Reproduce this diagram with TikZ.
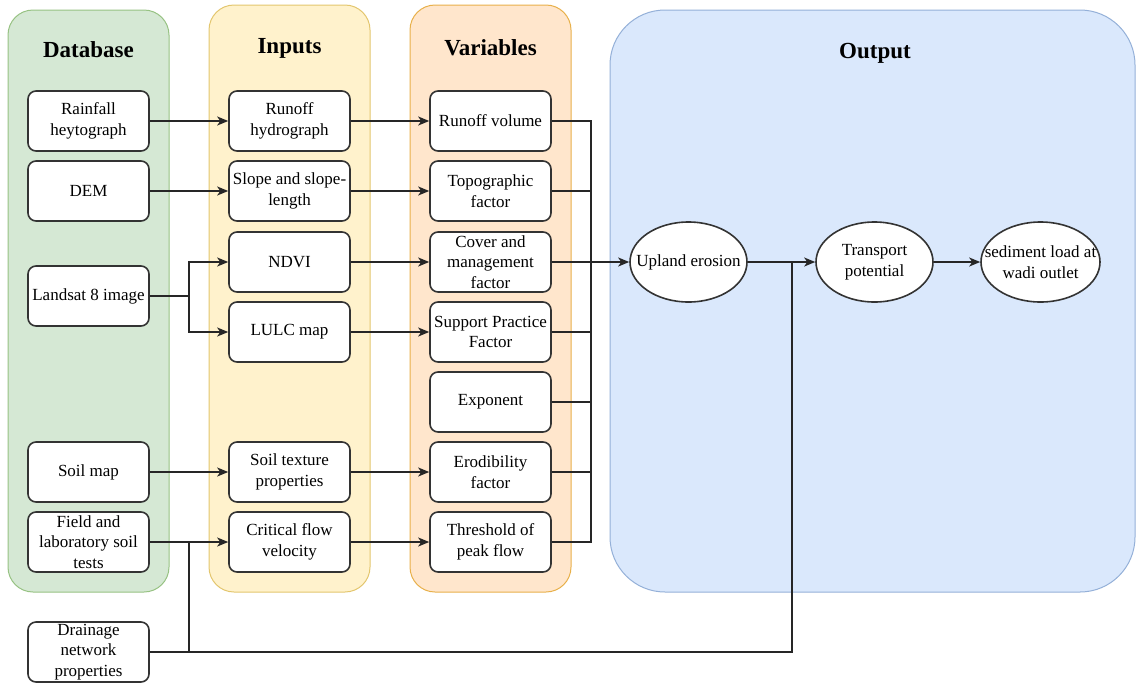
\documentclass[tikz,border=0pt]{standalone}
\usepackage{fontspec}
\setmainfont{Liberation Serif}
\usetikzlibrary{arrows.meta,shapes.geometric}
\definecolor{dbfill}{HTML}{D5E8D4}\definecolor{dbdraw}{HTML}{97C283}
\definecolor{infill}{HTML}{FFF2CC}\definecolor{indraw}{HTML}{E3C66E}
\definecolor{varfill}{HTML}{FFE6CC}\definecolor{vardraw}{HTML}{E8B04A}
\definecolor{outfill}{HTML}{DAE8FC}\definecolor{outdraw}{HTML}{94B0D8}
\begin{document}
\begin{tikzpicture}[x=1pt,y=-1pt,
  box/.style={draw=black!80, line width=1.6pt, fill=white, rounded corners=8pt,
    minimum width=121pt, minimum height=60pt, align=center, inner sep=1pt,
    font=\fontsize{17}{20.5}\selectfont},
  ell/.style={ellipse, draw=black!80, line width=1.6pt, fill=white,
    minimum width=117pt, minimum height=80pt, inner sep=0pt},
  elltext/.style={align=center, font=\fontsize{17}{20.5}\selectfont},
  arr/.style={-{Stealth[length=11pt,width=9pt,inset=3pt]}, line width=1.5pt, draw=black!85},
  ln/.style={line width=1.5pt, draw=black!85},
  container/.style={rounded corners=25pt, line width=1pt},
  title/.style={font=\fontsize{23}{26}\selectfont\bfseries}]
\useasboundingbox (0,0) rectangle (1137,686);
% containers
\draw[container, draw=dbdraw, fill=dbfill] (8,10) rectangle (169,592);
\draw[container, draw=indraw, fill=infill] (209,5) rectangle (370,592);
\draw[container, draw=vardraw, fill=varfill] (410,5) rectangle (571,592);
\draw[rounded corners=55pt, line width=1pt, draw=outdraw, fill=outfill] (610,10) rectangle (1135,592);
% titles
\node[title] (tdb) at (88.5,50) {Database};
\node[title] (tin) at (289.5,48) {Inputs};
\node[title] (tvar) at (490.5,48) {Variables};
\node[title] (tout) at (875,53) {Output};
% database
\node[box] (rain) at (88.5,121) {Rainfall\\heytograph};
\node[box] (dem) at (88.5,191) {DEM};
\node[box] (land) at (88.5,296) {Landsat 8 image};
\node[box] (soilmap) at (88.5,472) {Soil map};
\node[box] (field) at (88.5,542) {Field and\\laboratory soil\\tests};
\node[box] (drain) at (88.5,652) {Drainage\\network\\properties};
% inputs
\node[box] (hyd) at (289.5,121) {Runoff\\hydrograph};
\node[box] (slope) at (289.5,191) {Slope and slope-\\length};
\node[box] (ndvi) at (289.5,262) {NDVI};
\node[box] (lulc) at (289.5,332) {LULC map};
\node[box] (soiltex) at (289.5,472) {Soil texture\\properties};
\node[box] (crit) at (289.5,542) {Critical flow\\velocity};
% variables
\node[box] (rvol) at (490.5,121) {Runoff volume};
\node[box] (topo) at (490.5,191) {Topographic\\factor};
\node[box] (cover) at (490.5,262) {Cover and\\management\\factor};
\node[box] (supp) at (490.5,332) {Support Practice\\Factor};
\node[box] (expo) at (490.5,402) {Exponent};
\node[box] (erod) at (490.5,472) {Erodibility\\factor};
\node[box] (thr) at (490.5,542) {Threshold of\\peak flow};
% outputs
\node[ell] (upl) at (688.5,262) {};
\node[elltext] (uplt) at (upl) {Upland erosion};
\node[ell] (trans) at (874.5,262) {};
\node[elltext] (transt) at (trans) {Transport\\potential};
\node[ell, minimum width=119pt] (sed) at (1040.5,262) {};
\node[elltext] (sedt) at (sed) {sediment load at\\wadi outlet};
% database -> inputs
\draw[arr] (rain) -- (hyd);
\draw[arr] (dem) -- (slope);
\coordinate (lj) at (189,296);
\draw[ln] (land.east) -- (lj);
\draw[arr] (lj) |- (ndvi);
\draw[arr] (lj) |- (lulc);
\draw[arr] (soilmap) -- (soiltex);
\draw[arr] (field) -- (crit);
\coordinate (fj) at (189,542);
\coordinate (dj) at (189,652);
\draw[ln] (fj) -- (dj);
% inputs -> variables
\draw[arr] (hyd) -- (rvol);
\draw[arr] (slope) -- (topo);
\draw[arr] (ndvi) -- (cover);
\draw[arr] (lulc) -- (supp);
\draw[arr] (soiltex) -- (erod);
\draw[arr] (crit) -- (thr);
% variables -> bus
\coordinate (bt) at (591,121);
\coordinate (bb) at (591,542);
\draw[ln] (rvol.east) -- (bt) -- (bb) -- (thr.east);
\draw[ln] (topo.east) -- (topo.east -| bt);
\draw[ln] (supp.east) -- (supp.east -| bt);
\draw[ln] (expo.east) -- (expo.east -| bt);
\draw[ln] (erod.east) -- (erod.east -| bt);
\draw[arr] (cover) -- (upl);
% outputs
\draw[arr] (upl) -- (trans);
\draw[arr] (trans) -- (sed);
\coordinate (dt) at (792,652);
\coordinate (tj) at (792,262);
\draw[ln] (drain.east) -- (dt) -- (tj);
\end{tikzpicture}
\end{document}
